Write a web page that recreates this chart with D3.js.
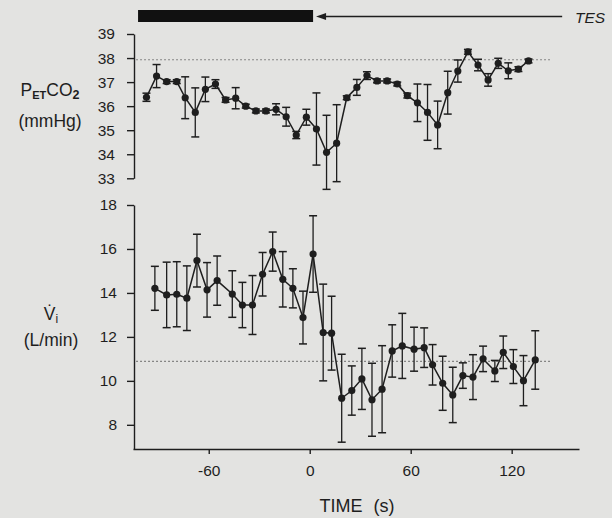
<!DOCTYPE html>
<html>
<head>
<meta charset="utf-8">
<style>
  body { margin: 0; padding: 0; background: #e3e3e1; overflow: hidden; }
  svg { display: block; }
  text { font-family: "Liberation Sans", Arial, sans-serif; fill: #1e1e1e; }
  .axis path, .axis line { stroke: #1e1e1e; stroke-width: 1.4; }
  .axis text { font-size: 15.5px; }
</style>
</head>
<body>
<div id="chart"></div>
<script src="https://d3js.org/d3.v7.min.js"></script>
<script>
// top panel: end-tidal CO2 (mmHg), mean and error
const timeCO2 = [-97, -91, -85, -79, -74, -68, -62, -56, -50, -44, -38, -32, -26, -20, -14, -8, -2, 4, 10, 16,
                 22, 28, 34, 40, 46, 52, 58, 64, 70, 76, 82, 88, 94, 100, 106, 112, 118, 124, 130];
const co2 = [36.37, 37.25, 37.02, 37.02, 36.35, 35.74, 36.70, 36.92, 36.26, 36.33, 36.0, 35.8, 35.8, 35.87, 35.56,
             34.8, 35.54, 35.05, 34.08, 34.46, 36.35, 36.78, 37.27, 37.05, 37.05, 36.92, 36.44, 36.14, 35.74, 35.22,
             36.56, 37.46, 38.26, 37.71, 37.09, 37.78, 37.47, 37.54, 37.88];
const co2Err = [0.17, 0.48, 0.08, 0.08, 0.87, 1.02, 0.51, 0.18, 0.1, 0.44, 0.08, 0.08, 0.08, 0.23, 0.39,
                0.15, 0.33, 1.5, 1.54, 1.6, 0.08, 0.33, 0.16, 0.08, 0.08, 0.08, 0.1, 0.78, 1.16, 0.99,
                0.89, 0.46, 0.1, 0.24, 0.26, 0.21, 0.33, 0.1, 0.08];

// bottom panel: ventilation (L/min)
const timeVi = [-92, -85, -79, -73, -67, -61, -55, -46, -40, -34, -28, -22, -16, -10, -4, 2, 8, 13, 19, 25,
                31, 37, 43, 49, 55, 62, 68, 73, 79, 85, 91, 97, 103, 110, 115, 121, 127, 134];
const vi = [14.21, 13.91, 13.94, 13.76, 15.47, 14.14, 14.56, 13.95, 13.45, 13.45, 14.85, 15.88, 14.62, 14.21, 12.88,
            15.77, 12.2, 12.17, 9.21, 9.56, 10.09, 9.14, 9.62, 11.36, 11.59, 11.44, 11.51, 10.73, 9.89, 9.36,
            10.24, 10.17, 11.0, 10.45, 11.3, 10.65, 10.01, 10.95];
const viErr = [1.0, 1.49, 1.48, 1.47, 1.2, 1.24, 1.12, 1.06, 1.03, 1.34, 0.99, 0.89, 1.26, 0.89, 1.2,
               1.74, 2.2, 1.68, 2.0, 1.12, 1.39, 1.66, 1.98, 1.19, 1.48, 1.0, 0.9, 0.92, 1.23, 1.26,
               0.58, 1.02, 0.58, 0.48, 0.74, 0.77, 1.14, 1.33];

const co2Ticks = [33, 34, 35, 36, 37, 38, 39];
const viTicks = [8, 10, 12, 14, 16, 18];
const timeTicks = [-60, 0, 60, 120];
const co2Baseline = 37.93;
const viBaseline = 10.89;
const tesSpan = [-102, 2];   // black bar
const tesArrowEnd = 150;

const W = 612, H = 518;
const ink = '#1e1e1e';

const svg = d3.select('#chart').append('svg').attr('width', W).attr('height', H);

const x = d3.scaleLinear().domain([-105, 160]).range([133, 579]);
const yTop = d3.scaleLinear().domain([33, 39]).range([178.3, 34]);
const yBot = d3.scaleLinear().domain([6.9, 18]).range([449, 205]);

// axes
svg.append('g').attr('class', 'axis').attr('transform', 'translate(134,0)')
  .call(d3.axisLeft(yTop).tickValues(co2Ticks).tickSize(7).tickSizeOuter(0).tickPadding(12).tickFormat(d3.format('d')));
svg.append('g').attr('class', 'axis').attr('transform', 'translate(134,0)')
  .call(d3.axisLeft(yBot).tickValues(viTicks).tickSize(7).tickSizeOuter(0).tickPadding(10).tickFormat(d3.format('d')));
const xAxis = svg.append('g').attr('class', 'axis').attr('transform', 'translate(0,449)')
  .call(d3.axisBottom(x).tickValues(timeTicks).tickSize(5).tickSizeOuter(0).tickPadding(11)
    .tickFormat(d => d < 0 ? '-' + Math.abs(d) : d));
svg.selectAll('.axis text').attr('fill', ink);

// dotted control levels
svg.append('line').attr('x1', x(-103)).attr('x2', x(144))
  .attr('y1', yTop(co2Baseline)).attr('y2', yTop(co2Baseline))
  .attr('stroke', '#555').attr('stroke-width', 1.2).attr('stroke-dasharray', '1.3,2.7');
svg.append('line').attr('x1', x(-103)).attr('x2', x(143))
  .attr('y1', yBot(viBaseline)).attr('y2', yBot(viBaseline))
  .attr('stroke', '#555').attr('stroke-width', 1.2).attr('stroke-dasharray', '1.3,2.7');

function drawSeries(t, v, e, y) {
  const pts = t.map((d, i) => ({ t: d, v: v[i], e: e[i] }));
  const g = svg.append('g');
  const bars = g.selectAll('g.err').data(pts).enter().append('g').attr('class', 'err');
  bars.append('line')
    .attr('x1', d => x(d.t)).attr('x2', d => x(d.t))
    .attr('y1', d => y(d.v - d.e)).attr('y2', d => y(d.v + d.e))
    .attr('stroke', ink).attr('stroke-width', 1.3);
  [-1, 1].forEach(s => {
    bars.append('line')
      .attr('x1', d => x(d.t) - 4).attr('x2', d => x(d.t) + 4)
      .attr('y1', d => y(d.v + s * d.e)).attr('y2', d => y(d.v + s * d.e))
      .attr('stroke', ink).attr('stroke-width', 1.5);
  });
  g.append('path').datum(pts)
    .attr('d', d3.line().x(d => x(d.t)).y(d => y(d.v)))
    .attr('fill', 'none').attr('stroke', ink).attr('stroke-width', 1.5);
  g.selectAll('circle').data(pts).enter().append('circle')
    .attr('cx', d => x(d.t)).attr('cy', d => y(d.v)).attr('r', 3.6)
    .attr('fill', ink);
}
drawSeries(timeCO2, co2, co2Err, yTop);
drawSeries(timeVi, vi, viErr, yBot);

// TES bar and arrow
svg.append('rect').attr('x', x(tesSpan[0])).attr('y', 10)
  .attr('width', x(tesSpan[1]) - x(tesSpan[0])).attr('height', 12).attr('fill', '#111');
svg.append('line').attr('x1', x(tesSpan[1]) + 10).attr('x2', x(tesArrowEnd))
  .attr('y1', 16.5).attr('y2', 16.5).attr('stroke', ink).attr('stroke-width', 1.3);
svg.append('path')
  .attr('d', `M${x(tesSpan[1]) + 3},16.5 L${x(tesSpan[1]) + 13},13 L${x(tesSpan[1]) + 13},20 Z`)
  .attr('fill', ink);
svg.append('text').attr('x', 575).attr('y', 23).attr('font-size', 15.5)
  .attr('font-style', 'italic').text('TES');

// panel labels
const lab1 = svg.append('text').attr('x', 50).attr('y', 96).attr('text-anchor', 'middle').attr('font-size', 17.5);
lab1.append('tspan').text('P');
lab1.append('tspan').attr('font-size', 11).attr('font-weight', 'bold').attr('dy', 3).text('ET');
lab1.append('tspan').attr('dy', -3).text('CO');
lab1.append('tspan').attr('font-size', 12.5).attr('font-weight', 'bold').attr('dy', 3).text('2');
svg.append('text').attr('x', 50).attr('y', 127).attr('text-anchor', 'middle').attr('font-size', 17.5).text('(mmHg)');

const lab2 = svg.append('text').attr('x', 51).attr('y', 320).attr('text-anchor', 'middle').attr('font-size', 17.5);
lab2.append('tspan').text('V\u0307');
lab2.append('tspan').attr('font-size', 12).attr('dy', 3).text('i');
svg.append('text').attr('x', 51).attr('y', 346).attr('text-anchor', 'middle').attr('font-size', 17.5).text('(L/min)');

// x title
svg.append('text').attr('x', 357).attr('y', 512).attr('text-anchor', 'middle').attr('font-size', 18)
  .attr('word-spacing', 6).text('TIME (s)');
</script>
</body>
</html>
